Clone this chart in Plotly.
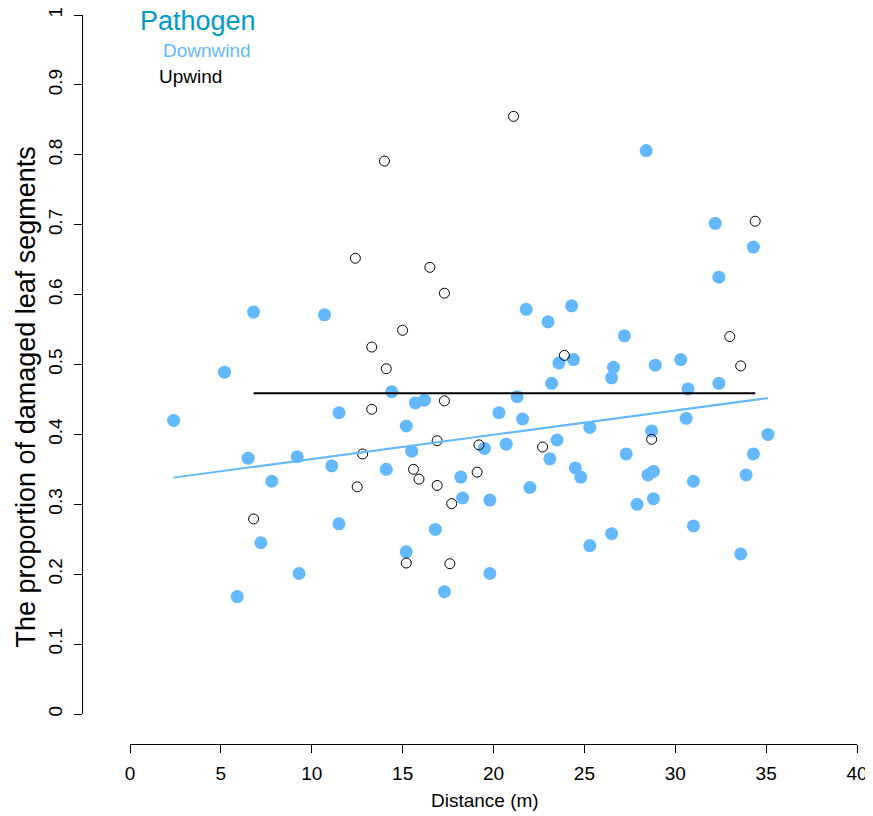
import plotly.graph_objects as go

# ---- data ----
down_x = [2.4, 5.2, 5.9, 6.5, 6.8, 7.2, 7.8, 9.2, 9.3, 10.7, 11.1, 11.5, 11.5, 14.1, 14.4,
          15.2, 15.2, 15.5, 15.7, 16.2, 16.8, 17.3, 18.2, 18.3, 19.5, 19.8, 19.8, 20.3, 20.7,
          21.3, 21.6, 21.8, 22.0, 23.0, 23.1, 23.2, 23.5, 23.6, 24.3, 24.4, 24.5, 24.8, 25.3,
          25.3, 26.5, 26.6, 26.5, 27.2, 27.3, 27.9, 28.4, 28.5, 28.7, 28.8, 28.8, 28.9, 30.3,
          30.6, 30.7, 31.0, 31.0, 32.2, 32.4, 32.4, 33.6, 33.9, 34.3, 34.3, 35.1]
down_y = [0.420, 0.489, 0.168, 0.366, 0.575, 0.245, 0.333, 0.368, 0.201, 0.571, 0.355, 0.431,
          0.272, 0.350, 0.461, 0.412, 0.232, 0.376, 0.445, 0.449, 0.264, 0.175, 0.339, 0.309,
          0.380, 0.306, 0.201, 0.431, 0.386, 0.454, 0.422, 0.579, 0.324, 0.561, 0.365, 0.473,
          0.392, 0.502, 0.584, 0.507, 0.352, 0.339, 0.410, 0.241, 0.481, 0.496, 0.258, 0.541,
          0.372, 0.300, 0.806, 0.342, 0.405, 0.347, 0.308, 0.499, 0.507, 0.423, 0.465, 0.333,
          0.269, 0.702, 0.625, 0.473, 0.229, 0.342, 0.668, 0.372, 0.400]

up_x = [6.8, 12.4, 12.5, 12.8, 13.3, 13.3, 14.0, 14.1, 15.0, 15.2, 15.6, 15.9, 16.5, 16.9,
        16.9, 17.3, 17.3, 17.7, 17.6, 19.1, 19.2, 21.1, 22.7, 23.9, 28.7, 33.0, 33.6, 34.4]
up_y = [0.279, 0.652, 0.325, 0.372, 0.525, 0.436, 0.791, 0.494, 0.549, 0.216, 0.350, 0.336,
        0.639, 0.391, 0.327, 0.602, 0.448, 0.301, 0.215, 0.346, 0.385, 0.855, 0.382, 0.513,
        0.393, 0.540, 0.498, 0.705]

# fitted lines (intercept, slope)
down_fit = [0.3298, 0.00348]
up_fit = [0.459, 0.0]

x_ticks = [0, 5, 10, 15, 20, 25, 30, 35, 40]
y_ticks = [0, 0.1, 0.2, 0.3, 0.4, 0.5, 0.6, 0.7, 0.8, 0.9, 1]
y_tick_labels = ["0", "0.1", "0.2", "0.3", "0.4", "0.5", "0.6", "0.7", "0.8", "0.9", "1"]

legend_title = "Pathogen"
legend_labels = ["Downwind", "Upwind"]

BLUE = "#63B8FF"
TITLE_BLUE = "#009ACD"
FONT = "Liberation Sans, Arial, sans-serif"

fig = go.Figure()
fig.add_trace(go.Scatter(x=down_x, y=down_y, mode="markers",
                         marker=dict(color=BLUE, size=13, line=dict(width=0)),
                         cliponaxis=False, showlegend=False))
fig.add_trace(go.Scatter(x=up_x, y=up_y, mode="markers",
                         marker=dict(symbol="circle-open", color="black", size=10,
                                     line=dict(width=1, color="black")),
                         cliponaxis=False, showlegend=False))

dx0, dx1 = min(down_x), max(down_x)
fig.add_trace(go.Scatter(x=[dx0, dx1], y=[down_fit[0] + down_fit[1] * dx0, down_fit[0] + down_fit[1] * dx1],
                         mode="lines", line=dict(color=BLUE, width=2), showlegend=False))
ux0, ux1 = min(up_x), max(up_x)
fig.add_trace(go.Scatter(x=[ux0, ux1], y=[up_fit[0] + up_fit[1] * ux0, up_fit[0] + up_fit[1] * ux1],
                         mode="lines", line=dict(color="black", width=2), showlegend=False))

axis_common = dict(showgrid=False, zeroline=False, showline=True, linecolor="black", linewidth=1,
                   ticks="outside", ticklen=8, tickwidth=1, tickcolor="black", automargin=False,
                   ticklabelstandoff=4, ticklabeloverflow="allow",
                   tickfont=dict(family=FONT, size=19, color="black"))

# page has an 8px body margin: figure is 865x808 placed at (8, 8)
fig.update_layout(
    width=865, height=808,
    margin=dict(l=74, r=16, t=7, b=72, pad=0, autoexpand=False),
    paper_bgcolor="white", plot_bgcolor="white",
    font=dict(family=FONT, color="black"),
    xaxis=dict(range=[0, 40], domain=[48 / 775, 1], anchor="free", position=0,
               tickvals=x_ticks, **axis_common),
    yaxis=dict(range=[0, 1], domain=[30 / 729, 1], anchor="free", position=0,
               tickvals=y_ticks, ticktext=y_tick_labels, tickangle=-90, **axis_common),
    showlegend=False,
)

annotations = [
    dict(text="The proportion of damaged leaf segments", x=(25 - 82) / 775, y=(744 - 397.5) / 729,
         xref="paper", yref="paper", showarrow=False, textangle=-90,
         font=dict(family=FONT, size=27, color="black"), xanchor="center", yanchor="middle"),
    dict(text="Distance (m)", x=(485 - 82) / 775, y=(744 - 800) / 729,
         xref="paper", yref="paper", showarrow=False,
         font=dict(family=FONT, size=19, color="black"), xanchor="center", yanchor="middle"),
    dict(text=legend_title, x=(198 - 82) / 775, y=(744 - 21) / 729,
         xref="paper", yref="paper", showarrow=False, borderpad=0,
         font=dict(family=FONT, size=27, color=TITLE_BLUE), xanchor="center", yanchor="middle"),
    dict(text=legend_labels[0], x=(161 - 82) / 775, y=(744 - 50) / 729,
         xref="paper", yref="paper", showarrow=False,
         font=dict(family=FONT, size=19, color=BLUE), xanchor="left", yanchor="middle"),
    dict(text=legend_labels[1], x=(157 - 82) / 775, y=(744 - 77) / 729,
         xref="paper", yref="paper", showarrow=False,
         font=dict(family=FONT, size=19, color="black"), xanchor="left", yanchor="middle"),
]
fig.update_layout(annotations=annotations)

fig.write_html("out.html")
